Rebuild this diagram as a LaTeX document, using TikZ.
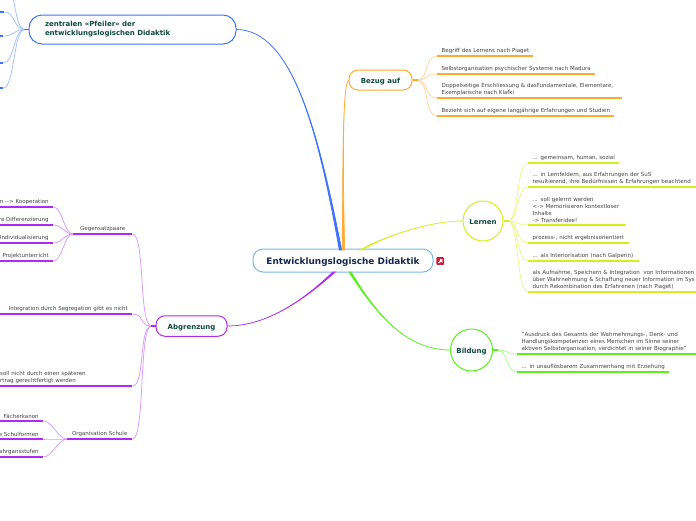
\documentclass[tikz,border=0pt]{standalone}
\usepackage{fontspec}
\setmainfont{DejaVu Sans}
\usetikzlibrary{calc}
\definecolor{cblue}{HTML}{3F73FF}\definecolor{cbluel}{HTML}{A3C0FF}
\definecolor{corange}{HTML}{FFAC2E}\definecolor{corangel}{HTML}{FFD699}
\definecolor{clime}{HTML}{D2F01E}\definecolor{climel}{HTML}{E8F88A}
\definecolor{cgreen}{HTML}{5CF01E}\definecolor{cgreenl}{HTML}{ADF88C}
\definecolor{cpurple}{HTML}{AE2CF2}\definecolor{cpurplel}{HTML}{D79CFA}
\definecolor{cmain}{HTML}{7DB9E3}\definecolor{ctitle}{HTML}{14284F}
\definecolor{ctopic}{HTML}{0F4A3C}\definecolor{ctext}{HTML}{444444}
\definecolor{cicon}{HTML}{CC1F3C}
\tikzset{
  leaftext/.style={inner xsep=4.5pt,inner ysep=2pt,anchor=south west,text=ctext,font=\fontsize{5.5}{7.1}\selectfont},
  topic/.style={draw=#1,line width=1pt,fill=white,text=ctopic,font=\bfseries\fontsize{7}{9}\selectfont,align=center,inner sep=0pt},
  oneline/.style={text height=7pt,text depth=.4pt},
  fan/.style={#1,line width=.75pt},
  stub/.style={#1,line width=1.1pt},
}
\newcommand{\leaf}[7][left]{%
  \pgfmathsetmacro{\tw}{#5-9}%
  \node[leaftext,text width=\tw pt,align=#1] (#3) at (#4,#6) {#7};
  \draw[#2,line width=1.3pt] (#3.south west) -- (#3.south east);
}
\newcommand{\taper}[6]{%
  \filldraw[#1,line width=.7pt] ($(#2)+(-1.2,0)$) .. controls (#3) and (#4) .. (#5) .. controls (#4) and (#3) .. ($(#2)+(1.2,0)$) -- cycle;
}
\begin{document}
\begin{tikzpicture}[x=1pt,y=-1pt]
\useasboundingbox (0,0) rectangle (696,520);
\fill[white] (0,0) rectangle (696,520);
\clip (0,0) rectangle (696,520);

% main topics
\node[draw=cmain,line width=1pt,rounded corners=10pt,fill=white,minimum width=180pt,minimum height=23pt,inner sep=0pt,text=ctitle,text height=8pt,text depth=.4pt,font=\bfseries\fontsize{8.9}{10}\selectfont] (main) at (343,260.5) {Entwicklungslogische Didaktik};
\node[fill=cicon,rounded corners=.8pt,minimum size=7.6pt,inner sep=0pt] (icon) at (440.2,261) {};
\fill[white] (438,263) -- (439.8,261) -- (439.8,259.2) -- (442.4,259.2) -- (442.4,262.8) -- (441,261.6) -- (439.5,263.2) -- cycle;

\node[topic=cblue,rounded corners=13pt,text width=175pt,align=left,inner xsep=16pt,minimum height=29pt] (pf) at (132.5,29.5) {zentralen «Pfeiler» der\\entwicklungslogischen Didaktik};
\node[topic=corange,oneline,rounded corners=9pt,minimum width=63pt,minimum height=20pt] (bezug) at (380.5,80) {Bezug auf};
\node[topic=clime,oneline,circle,minimum size=40pt] (lernen) at (483,221) {Lernen};
\node[topic=cgreen,oneline,circle,minimum size=42pt] (bildung) at (471.5,350) {Bildung};
\node[topic=cpurple,oneline,rounded corners=9pt,minimum width=71pt,minimum height=20.5pt] (abgr) at (191.5,326) {Abgrenzung};

% trunk connectors
\coordinate (sb) at (340.5,250);
\coordinate (so) at (343.5,250);
\coordinate (sl) at (361,250);
\coordinate (sg) at (350,272);
\coordinate (sp) at (334,272);
\taper{cblue}{sb}{318,130}{292,30}{pf.east}{}
\taper{corange}{so}{343,180}{342,85}{bezug.west}{}
\taper{clime}{sl}{385,236}{430,221}{lernen.west}{}
\taper{cgreen}{sg}{375,312}{405,350}{bildung.west}{}
\taper{cpurple}{sp}{306,298}{268,326}{abgr.east}{}

% Bezug auf
\leaf{corange}{b1}{437}{96}{56}{\mbox{Begriff des Lernens nach Piaget}}
\leaf{corange}{b2}{437}{158}{74}{\mbox{Selbstorganisation psychischer Systeme nach Madura}}
\leaf{corange}{b3}{437}{185}{98}{\mbox{Doppelseitige Erschliessung \& dasFundamentale, Elementare,}\\Exemplarische nach Klafki}
\leaf{corange}{b4}{437}{177}{116}{\mbox{Bezieht sich auf eigene langjährige Erfahrungen und Studien}}
\foreach \t in {b1,b2,b3,b4}{
  \draw[fan=corangel] (bezug.east) ++(4,0) to[out=0,in=180,distance=13pt] (\t.south west);
}
\draw[stub=corange] (bezug.east) -- ++(5,0);

% Lernen
\leaf{clime}{l1}{528}{91}{163}{\mbox{... gemeinsam, human, sozial}}
\leaf{clime}{l2}{528}{170}{187}{... in Lernfeldern, aus Erfahrungen der SuS\\\mbox{resultierend, ihre Bedürfnissen \& Erfahrungen beachtend}}
\leaf{clime}{l3}{528}{98}{225}{... soll gelernt werden\\\mbox{<-> Memorisieren kontextloser}\\Inhalte\\-> Transferidee!}
\leaf{clime}{l4}{528}{101}{243}{\mbox{prozess-, nicht ergebnisorientiert}}
\leaf{clime}{l5}{528}{111}{261}{\mbox{... als Interiorisation (nach Galperin)}}
\leaf{clime}{l6}{528}{185}{292}{\mbox{als Aufnahme, Speichern \& Integration~ von Informationen}\\\mbox{über Wahrnehmung \& Schaffung neuer Information im Sys}\\\mbox{durch Rekombination des Erfahrenen (nach Piaget)}}
\foreach \t in {l1,l2,l3,l4,l5,l6}{
  \draw[fan=climel] (lernen.east) ++(4,0) to[out=0,in=180,distance=12pt] (\t.south west);
}
\draw[stub=clime] (lernen.east) -- ++(5,0);

% Bildung
\leaf{cgreen}{g1}{517}{190}{354}{\mbox{"Ausdruck des Gesamts der Wahrnehmungs-, Denk- und}\\\mbox{Handlungskompetenzen eines Menschen im Sinne seiner}\\\mbox{aktiven Selbstorganisation, verdichtet in seiner Biographie"}}
\leaf{cgreen}{g2}{517}{152}{372}{\mbox{... in unauflösbarem Zusammenhang mit Erziehung}}
\foreach \t in {g1,g2}{
  \draw[fan=cgreenl] (bildung.east) ++(4,0) to[out=0,in=180,distance=11pt] (\t.south west);
}
\draw[stub=cgreen] (bildung.east) -- ++(5,0);

% Abgrenzung
\leaf[center]{cpurple}{a1}{73}{59}{234}{Gegensatzpaare}
\leaf[right]{cpurple}{a2}{-8}{140}{314}{Integration durch Segregation gibt es nicht}
\leaf{cpurple}{a3}{-4.5}{136.5}{386}{soll nicht durch einen späteren\\rtrag gerechtfertigt werden}
\leaf[center]{cpurple}{a4}{67}{65}{439}{Organisation Schule}
\foreach \t in {a1,a2,a3,a4}{
  \draw[fan=cpurplel] (abgr.west) ++(-4,0) to[out=180,in=0,distance=13pt] (\t.south east);
}
\draw[stub=cpurple] (abgr.west) -- ++(-5,0);

\leaf[right]{cpurple}{c1}{-20}{73}{207}{n -{}-> Kooperation}
\leaf[right]{cpurple}{c2}{-20}{73}{225}{re Differenzierung}
\leaf[right]{cpurple}{c3}{-20}{73}{243}{Individualisierung}
\leaf[right]{cpurple}{c4}{-20}{73}{261}{Projektunterricht}
\foreach \t in {c1,c2,c3,c4}{
  \draw[fan=cpurplel] (a1.south west) to[out=180,in=0,distance=9pt] (\t.south east);
}
\leaf[right]{cpurple}{d1}{-20}{63}{421}{Fächerkanon}
\leaf[right]{cpurple}{d2}{-20}{63}{439}{e Schulformen}
\leaf[right]{cpurple}{d3}{-20}{63}{457}{ahrgansstufen}
\foreach \t in {d1,d2,d3}{
  \draw[fan=cpurplel] (a4.south west) to[out=180,in=0,distance=9pt] (\t.south east);
}

% Pfeiler
\leaf{cblue}{z1}{-40}{44}{12}{}
\leaf{cblue}{z2}{-40}{43}{36}{}
\leaf{cblue}{z3}{-40}{43}{63}{}
\leaf{cblue}{z4}{-40}{43}{88}{}
\coordinate (z0) at (4,-22);
\foreach \t in {z1.south east,z2.south east,z3.south east,z4.south east,z0}{
  \draw[fan=cbluel] (pf.west) ++(-4,0) to[out=180,in=0,distance=11pt] (\t);
}
\draw[stub=cblue] (pf.west) -- ++(-5,0);
\end{tikzpicture}
\end{document}
